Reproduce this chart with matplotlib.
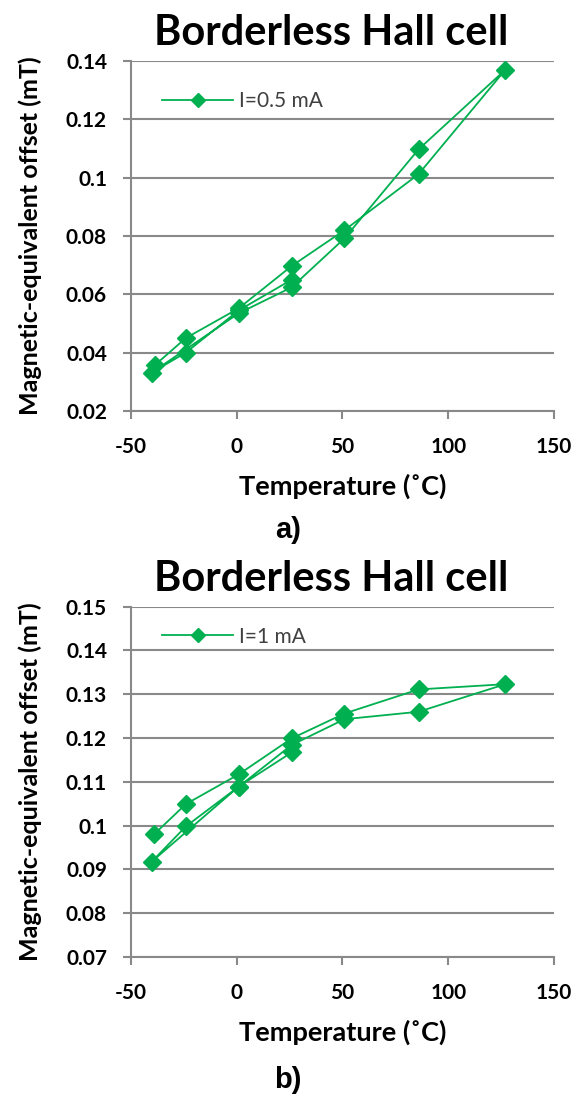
import matplotlib
matplotlib.use("Agg")
import matplotlib.pyplot as plt

plt.rcParams["axes.unicode_minus"] = False

# temperature sweep (deg C) and offset (mT)
temp_a = [-38.5, -24, 1, 26, 51, 86, 127, 86, 51, 26, 1, -40, -24, 1, 26]
offs_a = [0.0358, 0.0450, 0.0552, 0.0697, 0.0820, 0.1012, 0.1370, 0.1097,
          0.0792, 0.0624, 0.0535, 0.0332, 0.0400, 0.0545, 0.0650]

temp_b = [-39, -24, 1, 26, 51, 86, 127, 86, 51, 26, 1, -40, -24, 1, 26]
offs_b = [0.0980, 0.1049, 0.1117, 0.1199, 0.1256, 0.1311, 0.1323, 0.1260,
          0.1243, 0.1184, 0.1089, 0.0918, 0.0998, 0.1089, 0.1167]

xticks = [-50, 0, 50, 100, 150]
yticks_a = [0.02, 0.04, 0.06, 0.08, 0.1, 0.12, 0.14]
yticks_b = [0.07, 0.08, 0.09, 0.1, 0.11, 0.12, 0.13, 0.14, 0.15]
ytick_labels_a = ["0.02", "0.04", "0.06", "0.08", "0.1", "0.12", "0.14"]
ytick_labels_b = ["0.07", "0.08", "0.09", "0.1", "0.11", "0.12", "0.13", "0.14", "0.15"]

GREEN = "#00B050"
GRID = "#898989"
FONT = "Lato"

fig = plt.figure(figsize=(5.87, 10.99), dpi=100)


def panel(rect, temps, offs, yticks, ylabels, label, leg_y, tag, tag_y, title_y):
    ax = fig.add_axes(rect)
    ax.plot(temps, offs, color=GREEN, lw=1.3, marker="D", ms=9,
            mec=GREEN, mfc=GREEN, label=label, zorder=3, clip_on=False)
    ax.set_xlim(-50, 150)
    ax.set_ylim(yticks[0], yticks[-1])
    ax.set_xticks(xticks)
    ax.set_yticks(yticks)
    ax.set_yticklabels(ylabels)
    ax.yaxis.grid(True, color=GRID, lw=1.5)
    ax.set_axisbelow(True)
    for s in ["top", "right"]:
        ax.spines[s].set_visible(False)
    for s in ["left", "bottom"]:
        ax.spines[s].set_color(GRID)
        ax.spines[s].set_linewidth(1.5)
    ax.tick_params(axis="both", colors=GRID, width=1.5, length=6,
                   labelcolor="black", labelsize=15)
    ax.tick_params(axis="y", pad=11)
    ax.tick_params(axis="x", pad=13)
    for t in ax.get_xticklabels() + ax.get_yticklabels():
        t.set_fontfamily(FONT)
        t.set_fontweight("bold")
    fig.text(0.564, title_y, "Borderless Hall cell", fontsize=30, family=FONT,
             fontweight="bold", ha="center", va="baseline")
    ax.set_xlabel("Temperature (\u02daC)", fontsize=19.5, family=FONT,
                  fontweight="bold")
    ax.xaxis.set_label_coords(0.5, -0.18)
    ax.set_ylabel("Magnetic-equivalent offset (mT)", fontsize=18,
                  family=FONT, fontweight="bold")
    ax.yaxis.set_label_coords(-0.21, 0.5)
    leg = ax.legend(loc="center left", bbox_to_anchor=(0.03, leg_y),
                    frameon=False, handlelength=3.4, handletextpad=0.3,
                    markerscale=0.8, prop={"family": FONT, "size": 15})
    for t in leg.get_texts():
        t.set_color("#404040")
    fig.text(0.49, tag_y, tag, ha="center", va="center", fontsize=21,
             family="Liberation Sans", fontweight="bold")
    return ax


panel([0.2227, 0.626, 0.7211, 0.3185], temp_a, offs_a, yticks_a,
      ytick_labels_a, "I=0.5 mA", 0.886, "a)", 0.518, 0.959)
panel([0.2227, 0.1292, 0.7211, 0.3188], temp_b, offs_b, yticks_b,
      ytick_labels_b, "I=1 mA", 0.914, "b)", 0.017, 0.462)

fig.savefig("out.png", dpi=100)
